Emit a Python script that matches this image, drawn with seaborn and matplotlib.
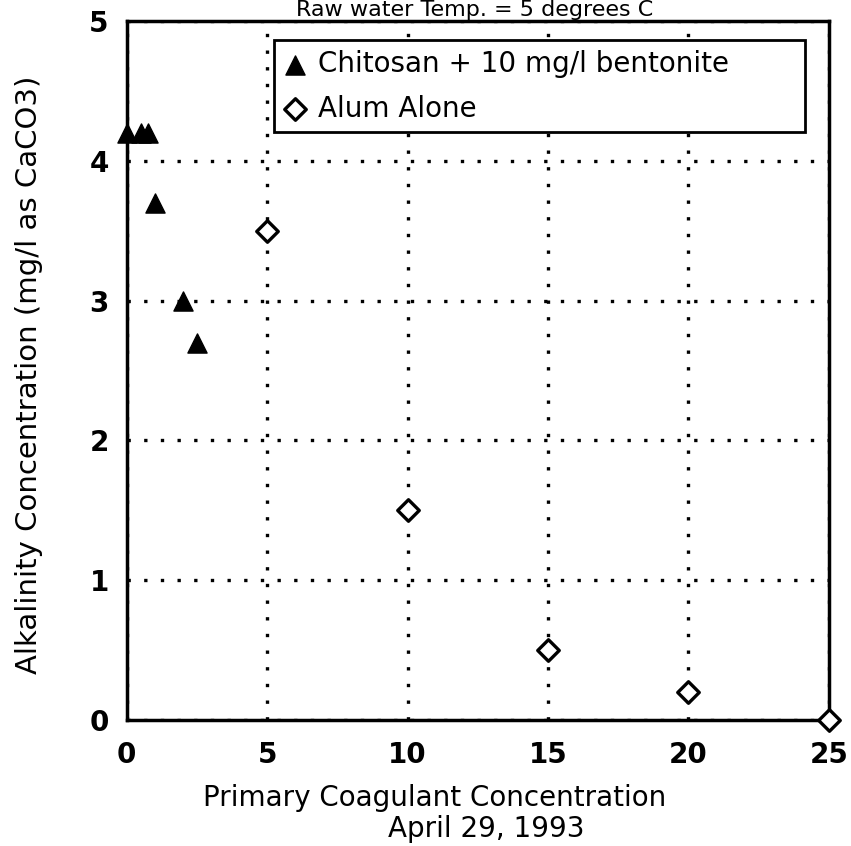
import matplotlib
matplotlib.use("Agg")
import matplotlib.pyplot as plt
import seaborn as sns
import pandas as pd

chitosan_x = [0, 0.5, 0.75, 1, 2, 2.5]
chitosan_y = [4.2, 4.2, 4.2, 3.7, 3.0, 2.7]
alum_x = [5, 10, 15, 20, 25]
alum_y = [3.5, 1.5, 0.5, 0.2, 0.0]
series_names = ["Chitosan + 10 mg/l bentonite", "Alum Alone"]
x_ticks = [0, 5, 10, 15, 20, 25]
y_ticks = [0, 1, 2, 3, 4, 5]

df = pd.DataFrame({
    "x": chitosan_x + alum_x,
    "y": chitosan_y + alum_y,
    "series": [series_names[0]] * len(chitosan_x) + [series_names[1]] * len(alum_x),
})

sns.set_style("white")
plt.rcParams['font.family'] = ['DejaVu Sans']
for k in ["text.color", "axes.labelcolor", "xtick.color", "ytick.color"]:
    plt.rcParams[k] = "black"

fig = plt.figure(figsize=(8.51, 8.46), dpi=100)
ax = fig.add_axes([0.149, 0.149, 0.825, 0.826])

sub1 = df[df.series == series_names[0]]
sub2 = df[df.series == series_names[1]]
sns.scatterplot(data=sub1, x="x", y="y", marker="^", s=190, color="black",
                edgecolor="black", linewidth=1, ax=ax, label=series_names[0], zorder=5, clip_on=False)
sns.scatterplot(data=sub2, x="x", y="y", marker="D", s=120, facecolor="white",
                edgecolor="black", linewidth=2.4, ax=ax, label=series_names[1], zorder=5, clip_on=False)

ax.set_xlim(0, 25)
ax.set_ylim(0, 5)
ax.set_xticks(x_ticks)
ax.set_yticks(y_ticks)
ax.set_xticklabels([str(t) for t in x_ticks], fontsize=20, fontweight="bold")
ax.set_yticklabels([str(t) for t in y_ticks], fontsize=20, fontweight="bold")
ax.tick_params(direction="in", length=8, width=2)
ax.tick_params(axis="x", pad=15)
ax.tick_params(axis="y", pad=13)
ax.grid(True, linestyle=(0, (1, 4)), color="black", linewidth=2.4)
for s in ax.spines.values():
    s.set_linewidth(2.5)
    s.set_color("black")

ax.set_xlabel("")
ax.set_ylabel("")
fig.text(0.034, 1 - 375 / 846, "Alkalinity Concentration (mg/l as CaCO3)", rotation=90,
         ha="center", va="center", fontsize=21)
fig.text(435 / 851, 40 / 846, "Primary Coagulant Concentration", ha="center", va="baseline", fontsize=20)
fig.text(486 / 851, 9 / 846, "April 29, 1993", ha="center", va="baseline", fontsize=20)
fig.text(475 / 851, 1 - 16 / 846, "Raw water Temp. = 5 degrees C", ha="center", va="baseline", fontsize=16)

x0 = (274 - 127) / 702
w = (805 - 274) / 702
top = (720 - 40) / 699
leg = ax.legend(loc="upper left", bbox_to_anchor=(x0, 0.5, w, top - 0.5), mode="expand",
                borderaxespad=0, fontsize=20, frameon=True, fancybox=False, edgecolor="black",
                handletextpad=0.45, borderpad=0.35, labelspacing=0.6, handlelength=0.8)
leg.get_frame().set_linewidth(2)
leg.get_frame().set_alpha(1)

fig.savefig("out.png", dpi=100, facecolor="white")
